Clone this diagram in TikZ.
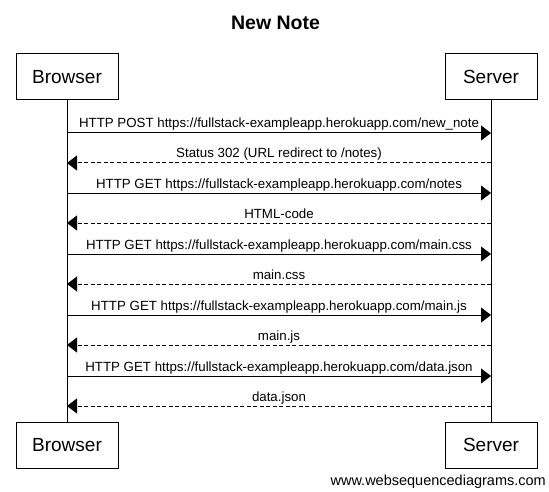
\documentclass[tikz,border=0pt]{standalone}
\usepackage{fontspec}
\setmainfont{Liberation Sans}
\usetikzlibrary{arrows.meta}
\tikzset{
  actor/.style={draw=black, line width=1pt, minimum height=46pt, inner sep=0pt, font=\fontsize{19}{22}\selectfont},
  lifeline/.style={draw=black, line width=1pt},
  req/.style={draw=black, line width=1pt, -{Triangle[length=10pt,width=15pt]}},
  resp/.style={draw=black, line width=1pt, dash pattern=on 4pt off 2.5pt, -{Triangle[length=10pt,width=15pt]}},
  lbl/.style={anchor=base, yshift=5pt, inner sep=0pt, font=\fontsize{13.3}{15}\selectfont},
}
\begin{document}
\begin{tikzpicture}[x=1pt,y=-1pt]
\useasboundingbox (0,0) rectangle (549,492);
\node[anchor=base, inner sep=0pt, font=\fontsize{19.5}{22}\selectfont\bfseries] (title) at (275.5,30) {New Note};
\node[actor, minimum width=102pt] (bt) at (67,77) {Browser};
\node[actor, minimum width=92pt] (st) at (491,77) {Server};
\node[actor, minimum width=102pt] (bb) at (67,445) {Browser};
\node[actor, minimum width=92pt] (sb) at (491,445) {Server};
\draw[lifeline] (bt.south) -- (bb.north);
\draw[lifeline] (st.south) -- (sb.north);
\foreach \i/\y in {1/133,2/163,3/193,4/223,5/254,6/284,7/315,8/345,9/376,10/406}{
  \coordinate (b\i) at (67,\y);
  \coordinate (s\i) at (491,\y);
}
\draw[req] (b1) -- node[lbl]{HTTP POST https://fullstack-exampleapp.herokuapp.com/new\_note} (s1);
\draw[resp] (s2) -- node[lbl]{Status 302 (URL redirect to /notes)} (b2);
\draw[req] (b3) -- node[lbl]{HTTP GET https://fullstack-exampleapp.herokuapp.com/notes} (s3);
\draw[resp] (s4) -- node[lbl]{HTML-code} (b4);
\draw[req] (b5) -- node[lbl]{HTTP GET https://fullstack-exampleapp.herokuapp.com/main.css} (s5);
\draw[resp] (s6) -- node[lbl]{main.css} (b6);
\draw[req] (b7) -- node[lbl]{HTTP GET https://fullstack-exampleapp.herokuapp.com/main.js} (s7);
\draw[resp] (s8) -- node[lbl]{main.js} (b8);
\draw[req] (b9) -- node[lbl]{HTTP GET https://fullstack-exampleapp.herokuapp.com/data.json} (s9);
\draw[resp] (s10) -- node[lbl]{data.json} (b10);
\node[anchor=base east, inner sep=0pt, font=\fontsize{14.5}{17}\selectfont] (footer) at (546,485) {www.websequencediagrams.com};
\end{tikzpicture}
\end{document}
